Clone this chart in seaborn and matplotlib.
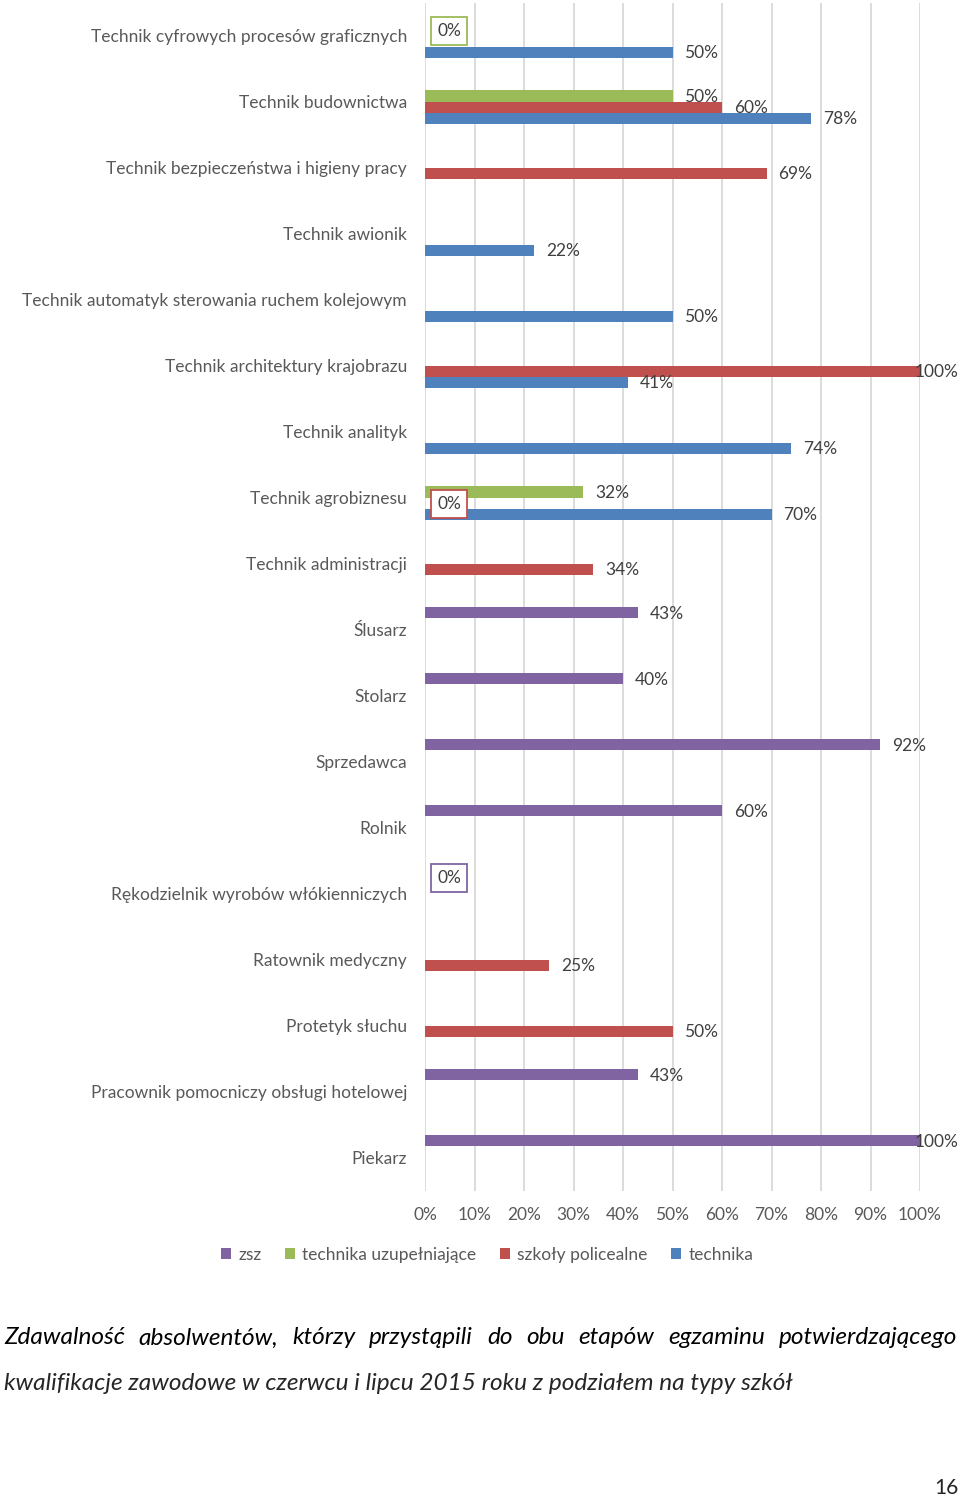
import numpy as np
import pandas as pd
import matplotlib.pyplot as plt
import seaborn as sns
from matplotlib.ticker import MultipleLocator, PercentFormatter

# dane (zdawalność w %)
zawody = [
    "Technik cyfrowych procesów graficznych",
    "Technik budownictwa",
    "Technik bezpieczeństwa i higieny pracy",
    "Technik awionik",
    "Technik automatyk sterowania ruchem kolejowym",
    "Technik architektury krajobrazu",
    "Technik analityk",
    "Technik agrobiznesu",
    "Technik administracji",
    "Ślusarz",
    "Stolarz",
    "Sprzedawca",
    "Rolnik",
    "Rękodzielnik wyrobów włókienniczych",
    "Ratownik medyczny",
    "Protetyk słuchu",
    "Pracownik pomocniczy obsługi hotelowej",
    "Piekarz",
]
zsz = [None, None, None, None, None, None, None, None, None, 43, 40, 92, 60, 0, None, None, 43, 100]
technika_uzup = [0, 50, None, None, None, None, None, 32, None, None, None, None, None, None, None, None, None, None]
policealne = [None, 60, 69, None, None, 100, None, 0, 34, None, None, None, None, None, 25, 50, None, None]
technika = [50, 78, None, 22, 50, 41, 74, 70, None, None, None, None, None, None, None, None, None, None]

serie = ["zsz", "technika uzupełniające", "szkoły policealne", "technika"]
kolory = ["#8064A2", "#9BBB59", "#C0504D", "#4F81BD"]

rows = []
for nazwa, wartosci in zip(serie, [zsz, technika_uzup, policealne, technika]):
    for zawod, v in zip(zawody, wartosci):
        if v is not None:
            rows.append({"zawod": zawod, "typ": nazwa, "wynik": v})
df = pd.DataFrame(rows)

sns.set_style("white")
plt.rcParams['font.family'] = ['Lato', 'DejaVu Sans']

fig = plt.figure(figsize=(9.6, 14.99), dpi=100)
W, H = 960, 1499
ax = fig.add_axes([425 / W, 1 - 1190.5 / H, 495 / W, 1188 / H])

sns.barplot(data=df, y="zawod", x="wynik", hue="typ", order=zawody,
            hue_order=serie, palette=kolory, width=0.667, orient="h",
            errorbar=None, saturation=1, linewidth=0, ax=ax)

ax.set_xlim(0, 100)
ax.xaxis.set_major_locator(MultipleLocator(10))
ax.xaxis.set_major_formatter(PercentFormatter(decimals=0))
ax.grid(axis="x", color="#D9D9D9", linewidth=1.3)
ax.set_axisbelow(True)
for s in ax.spines.values():
    s.set_visible(False)
ax.set_xlabel("")
ax.set_ylabel("")
ax.tick_params(axis="y", length=0, pad=13, labelsize=12.5, labelcolor="#595959")
ax.tick_params(axis="x", length=0, pad=12, labelsize=12.5, labelcolor="#595959")

# etykiety danych
for cont in ax.containers:
    for bar in cont:
        w = bar.get_width()
        if np.isnan(w):
            continue
        y = bar.get_y() + bar.get_height() / 2
        box = None
        if w == 0:
            box = dict(boxstyle="square,pad=0.35", fc="white",
                       ec=bar.get_facecolor(), lw=1.3)
        if w >= 100:
            # etykieta nie mieści się - wciągnięta do środka jak w Excelu
            ax.annotate(f"{w:.0f}%", (w, y), xytext=(38, -1),
                        textcoords="offset pixels", va="center", ha="right",
                        fontsize=12.5, color="#404040", annotation_clip=False)
            continue
        ax.annotate(f"{w:.0f}%", (w, y), xytext=(12, -1),
                    textcoords="offset pixels", va="center", ha="left",
                    fontsize=12.5, color="#404040", bbox=box,
                    annotation_clip=False)

# legenda
handles, labels = ax.get_legend_handles_labels()
ax.get_legend().remove()
fig.legend(handles, labels, loc="center", bbox_to_anchor=(487 / W, 1 - 1255 / H),
           ncol=4, frameon=False, fontsize=12.5, handlelength=0.6,
           handleheight=0.6, handletextpad=0.4, columnspacing=1.35,
           labelcolor="#595959")

# podpis - wyjustowany pierwszy wiersz
fs = 17.6
linia1 = "Zdawalność absolwentów, którzy przystąpili do obu etapów egzaminu potwierdzającego".split()
linia2 = "kwalifikacje zawodowe w czerwcu i lipcu 2015 roku z podziałem na typy szkół"
renderer = fig.canvas.get_renderer()
teksty = [fig.text(0, 0, s, fontsize=fs, style="italic", color="black") for s in linia1]
szer = [t.get_window_extent(renderer).width for t in teksty]
odstep = (953 - sum(szer)) / (len(linia1) - 1)
x = 4
for t, sw in zip(teksty, szer):
    t.set_position((x / W, 1 - 1338 / H))
    t.set_va("center")
    x += sw + odstep
fig.text(4 / W, 1 - 1384 / H, linia2, fontsize=fs, style="italic", va="center")
fig.text(959 / W, 1 - 1488 / H, "16", fontsize=15, ha="right", va="center")

plt.savefig("out.png", dpi=100)
